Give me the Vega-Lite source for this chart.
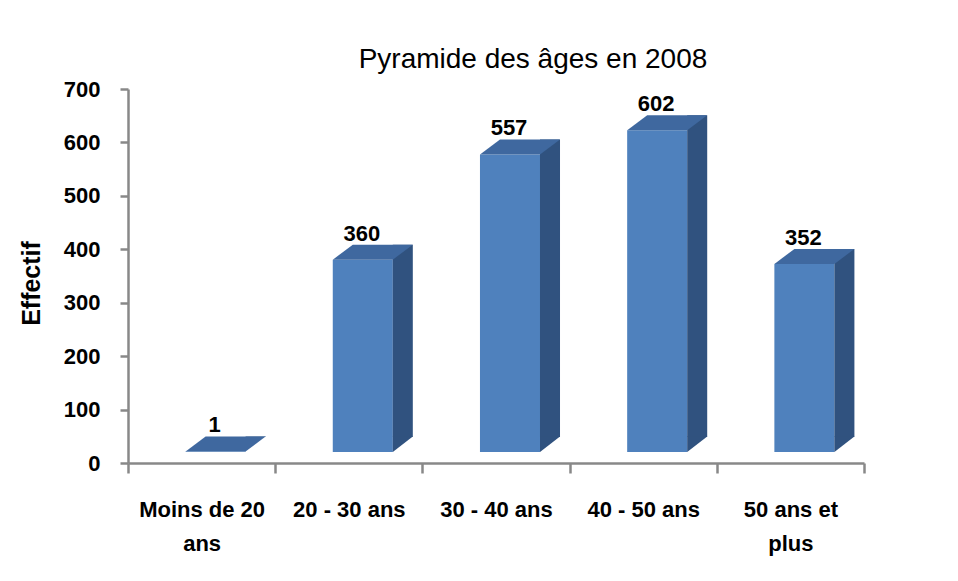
{
  "$schema": "https://vega.github.io/schema/vega-lite/v6.json",
  "width": 736,
  "height": 374,
  "autosize": {"type": "none"},
  "padding": {"left": 128, "top": 89, "right": 94, "bottom": 118},
  "background": "white",
  "config": {"view": {"stroke": null}},
  "title": {
    "text": "Pyramide des âges en 2008",
    "font": "Liberation Sans",
    "fontSize": 28,
    "fontWeight": "normal",
    "color": "black",
    "anchor": "middle",
    "frame": "group",
    "dx": 37,
    "dy": 38,
    "baseline": "alphabetic",
    "offset": 20
  },
  "data": {
    "values": [
      {"age": "Moins de 20 ans", "effectif": 1},
      {"age": "20 - 30 ans", "effectif": 360},
      {"age": "30 - 40 ans", "effectif": 557},
      {"age": "40 - 50 ans", "effectif": 602},
      {"age": "50 ans et plus", "effectif": 352}
    ]
  },
  "encoding": {
    "x": {
      "field": "age",
      "type": "nominal",
      "sort": null,
      "scale": {"paddingInner": 0, "paddingOuter": 0},
      "axis": {
        "title": null,
        "labelAngle": 0,
        "labelFont": "Liberation Sans",
        "labelFontSize": 22,
        "labelFontWeight": "bold",
        "labelColor": "black",
        "labelExpr": "datum.value == 'Moins de 20 ans' ? ['Moins de 20', 'ans'] : datum.value == '50 ans et plus' ? ['50 ans et', 'plus'] : datum.value",
        "labelLineHeight": 34,
        "labelPadding": 26,
        "labelBaseline": "top",
        "labelLimit": 300,
        "tickBand": "extent",
        "tickSize": 10,
        "tickColor": "#888888",
        "tickWidth": 2.5,
        "domainColor": "#888888",
        "domainWidth": 2.5
      }
    },
    "y": {
      "field": "effectif",
      "type": "quantitative",
      "scale": {"domain": [0, 700], "nice": false},
      "axis": {
        "title": "Effectif",
        "titleFont": "Liberation Sans",
        "titleFontSize": 25,
        "titleFontWeight": "bold",
        "titleColor": "black",
        "titleX": -97,
        "titleY": 194,
        "titleAngle": -90,
        "titleAlign": "center",
        "titleBaseline": "middle",
        "values": [0, 100, 200, 300, 400, 500, 600, 700],
        "grid": false,
        "labelFont": "Liberation Sans",
        "labelFontSize": 22,
        "labelFontWeight": "bold",
        "labelColor": "black",
        "labelPadding": 20,
        "tickSize": 8,
        "tickColor": "#888888",
        "tickWidth": 2.5,
        "domainColor": "#888888",
        "domainWidth": 2.5
      }
    }
  },
  "layer": [
    {
      "mark": {"type": "bar", "color": "#4F81BD", "width": {"band": 0.408}, "xOffset": 14, "yOffset": -11, "y2Offset": -11}
    },
    {
      "mark": {"type": "bar", "color": "#30527F", "width": {"band": 0.136}, "xOffset": 54, "yOffset": -26, "y2Offset": -26}
    },
    {
      "mark": {"type": "point", "shape": "M -1 0 L 0.5 0 L 1 -0.375 L -0.5 -0.375 Z", "size": 6400, "filled": true, "color": "#3F689F", "opacity": 1, "strokeWidth": 0, "xOffset": 24, "yOffset": -11}
    },
    {
      "mark": {"type": "point", "shape": "M -1 -1.55 L -1 0 L 1 -1.55 Z", "size": 400, "filled": true, "color": "#30527F", "opacity": 1, "strokeWidth": 0, "xOffset": 54, "yOffset": -11},
      "encoding": {"y": {"datum": 0}},
      "transform": [{"filter": "datum.effectif > 10"}]
    },
    {
      "mark": {"type": "text", "font": "Liberation Sans", "fontSize": 22, "fontWeight": "bold", "color": "black", "xOffset": 13, "yOffset": -30, "baseline": "alphabetic"},
      "encoding": {"text": {"field": "effectif", "type": "quantitative"}}
    }
  ]
}
